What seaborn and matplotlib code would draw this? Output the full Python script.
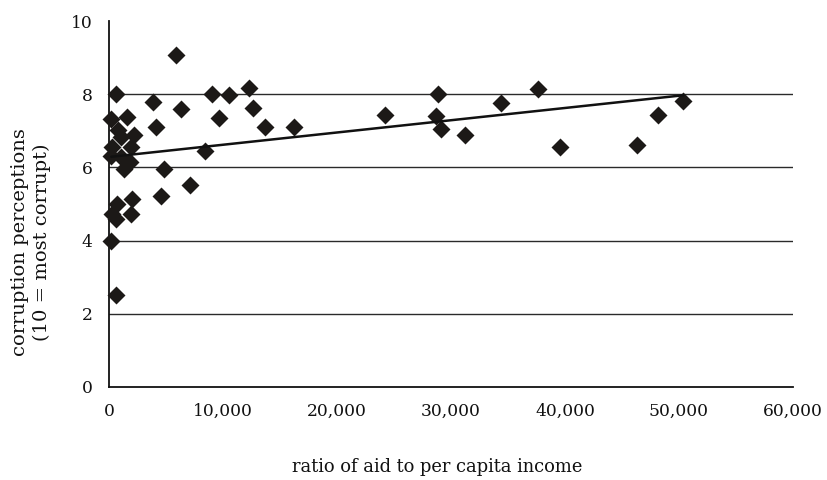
import seaborn as sns
import matplotlib.pyplot as plt
import pandas as pd
from matplotlib.ticker import StrMethodFormatter

# ratio of aid to per capita income (x) and corruption perceptions (y)
aid_ratio = [5900, 600, 3900, 6300, 9000, 10500, 12300, 9650, 12600, 13700,
             16200, 4100, 8400, 4800, 7100, 4600, 700, 2000, 300, 600,
             1900, 200, 600, 24200, 28900, 28700, 29100, 31200, 34400, 37600,
             39600, 46300, 48200, 50400, 200, 1550, 800, 2200, 1050, 1050,
             250, 1900, 200, 1800, 1300]
corruption = [9.07, 8.0, 7.80, 7.61, 8.0, 7.98, 8.18, 7.36, 7.62, 7.11,
              7.11, 7.11, 6.45, 5.97, 5.53, 5.22, 5.00, 5.15, 4.74, 4.60,
              4.72, 4.00, 2.50, 7.42, 8.02, 7.40, 7.05, 6.88, 7.76, 8.15,
              6.55, 6.60, 7.42, 7.82, 7.33, 7.38, 7.02, 6.90, 6.83, 6.28,
              6.55, 6.55, 6.30, 6.15, 5.95]

x_ticks = [0, 10000, 20000, 30000, 40000, 50000, 60000]
y_ticks = [0, 2, 4, 6, 8, 10]

df = pd.DataFrame({'aid': aid_ratio, 'cpi': corruption})

sns.set_style('white')
plt.rcParams['font.family'] = ['DejaVu Serif']

fig = plt.figure(figsize=(8.27, 4.8), dpi=100)
ax = fig.add_axes([0.1318, 0.194, 0.827, 0.762])

# lineas horizontales de la cuadricula
for yv in [2, 4, 6, 8]:
    ax.axhline(yv, color='#2a2a2a', lw=1.0, zorder=0)

sns.regplot(data=df, x='aid', y='cpi', ci=None, marker='D', ax=ax,
            scatter_kws={'s': 84, 'color': '#1c1917', 'alpha': 1,
                         'linewidths': 0, 'clip_on': False, 'zorder': 3},
            line_kws={'color': '#111111', 'lw': 1.8, 'zorder': 4})

ax.set_xlim(0, 60000)
ax.set_ylim(0, 10)
ax.set_xticks(x_ticks)
ax.set_yticks(y_ticks)
ax.xaxis.set_major_formatter(StrMethodFormatter('{x:,.0f}'))

for side in ['top', 'right']:
    ax.spines[side].set_visible(False)
for side in ['left', 'bottom']:
    ax.spines[side].set_color('#111111')
    ax.spines[side].set_linewidth(1.3)

ax.tick_params(axis='both', direction='out', length=5.8, width=1.2,
               color='#111111', labelsize=12.3, labelcolor='#111111')
ax.tick_params(axis='x', pad=6)
ax.tick_params(axis='y', pad=6)

ax.set_xlabel('ratio of aid to per capita income', fontsize=12.9, color='#111111')
ax.set_ylabel('corruption perceptions\n(10 = most corrupt)', fontsize=14,
              color='#111111', linespacing=1.3)
ax.xaxis.set_label_coords(0.48, -0.195)
ax.yaxis.set_label_coords(-0.114, 0.396)
ax.yaxis.label.set_va('center')

fig.savefig('out.png', dpi=100)
